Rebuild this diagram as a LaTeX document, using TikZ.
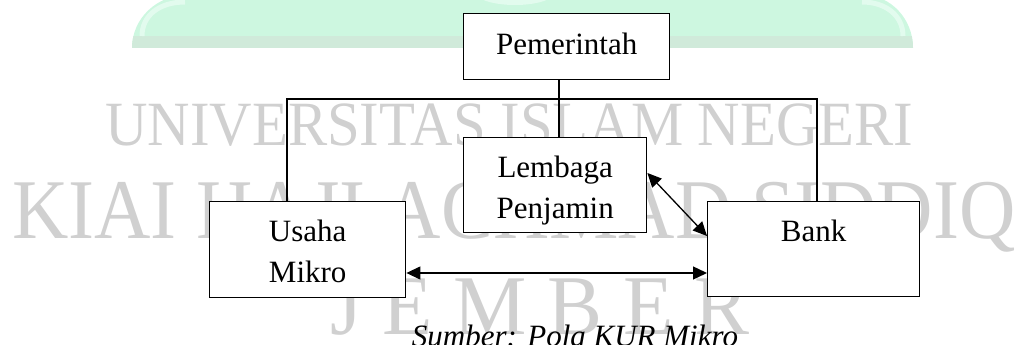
\documentclass[tikz,border=0pt]{standalone}
\usepackage{fontspec}
\usepackage{graphicx}
\setmainfont{Liberation Serif}
\usetikzlibrary{arrows.meta}
\definecolor{wmgray}{RGB}{208,208,208}
\definecolor{wmgreen}{RGB}{205,247,224}
\definecolor{wmband}{RGB}{208,234,218}
\definecolor{wmlight}{RGB}{226,251,238}
\newcommand\twolines[2]{\begin{tabular}[t]{@{}c@{}}#1\\#2\end{tabular}}
\begin{document}
\begin{tikzpicture}[x=1pt,y=-1pt,
  box/.style={draw, line width=1.4pt, fill=white, inner sep=0pt, anchor=north west,
              font=\fontsize{31}{41}\selectfont},
  conn/.style={line width=1.3pt},
  biarrow/.style={line width=1.3pt,
     {Triangle[length=14pt,width=13pt]}-{Triangle[length=14pt,width=13pt]}},
  wm/.style={text=wmgray, inner sep=0pt, anchor=base west}]
\useasboundingbox (0,0) rectangle (1025,345);
% background logo fragment
\begin{scope}
\clip (132,48) .. controls (132,18.7) and (156.6,-5) .. (187,-5) -- (863,-5)
      .. controls (890.6,-5) and (913,18.7) .. (913,48) -- cycle;
\fill[wmgreen] (100,-10) rectangle (950,48);
\fill[wmband] (100,36) rectangle (950,48);
\fill[wmlight] (515,-8) ellipse (40pt and 13pt);
\draw[wmlight, line width=5pt] (142,36) .. controls (142,15) and (160,2) .. (185,2);
\draw[wmlight, line width=5pt] (903,36) .. controls (903,15) and (885,2) .. (862,2);
\end{scope}
% watermark text
\node[wm, font=\fontsize{63}{63}\selectfont] (wm1) at (105,145) {\scalebox{0.933}[1]{UNIVERSITAS ISLAM NEGERI}};
\node[wm, font=\fontsize{85}{85}\selectfont] (wm2) at (12,238) {\scalebox{0.918}[1]{KIAI HAJI ACHMAD SIDDIQ}};
\node[wm, font=\fontsize{85}{85}\selectfont] (wm3) at (330,334) {\scalebox{0.97}[1]{J E M B E R}};
% boxes
\node[box, minimum width=206pt, text height=41pt, text depth=25pt] (pem) at (463,13) {Pemerintah};
\node[box, minimum width=183pt, text height=40pt, text depth=55pt] (lem) at (463,137) {\twolines{Lembaga}{Penjamin}};
\node[box, minimum width=196pt, text height=40pt, text depth=56pt] (usaha) at (209,201) {\twolines{Usaha}{Mikro}};
\node[box, minimum width=212pt, text height=40pt, text depth=55pt] (bank) at (707,201) {Bank};
% connectors
\coordinate (j) at (559,99);
\coordinate (jl) at (287,99);
\coordinate (jr) at (817,99);
\coordinate (harr) at (0,273);
\coordinate (dtop) at (0,173);
\coordinate (dbot) at (0,236);
\draw[conn] (pem.south -| j) -- (j);
\draw[conn] (usaha.north -| jl) -- (jl) -- (jr) -- (bank.north -| jr);
\draw[conn] (j) -- (lem.north -| j);
\draw[biarrow] (usaha.east |- harr) -- (bank.west |- harr);
\draw[biarrow] (lem.east |- dtop) -- (bank.west |- dbot);
% caption
\node[font=\fontsize{31}{41}\selectfont\itshape, anchor=base, inner sep=0pt] (cap) at (575,346) {Sumber: Pola KUR Mikro};
\end{tikzpicture}
\end{document}
